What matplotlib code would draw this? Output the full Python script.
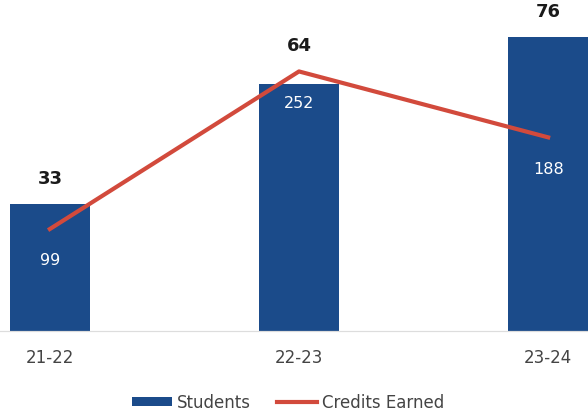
import numpy as np
import matplotlib.pyplot as plt
from matplotlib.patches import Patch
from matplotlib.lines import Line2D

years = ['21-22', '22-23', '23-24']
students = [33, 64, 76]
credits = [99, 252, 188]

bar_color = '#1b4b8a'
line_color = '#d24a3c'

fig = plt.figure(figsize=(5.88, 4.15), dpi=100)
ax = fig.add_axes([0, 0.2024, 1, 0.7446])
ax2 = ax.twinx()

x = np.arange(len(years))
width = 0.32
bars = ax.bar(x, students, width, color=bar_color, zorder=2)
ax2.plot(x, credits, color=line_color, linewidth=3, zorder=3)

ax.set_xlim(-0.2, 2.16)
ax.set_ylim(0, 80)
ax2.set_ylim(0, 300)

# student counts above bars (kept clear of the line)
scale = 80 / 300
for rect, c in zip(bars, credits):
    h = rect.get_height()
    anchor = max(h, c * scale)
    ax.annotate('{}'.format(h), (rect.get_x() + rect.get_width() / 2, anchor),
                xytext=(0, 18), textcoords='offset points',
                ha='center', va='center', fontsize=13, fontweight='bold', color='#1a1a1a')

# credits labels below line points
for xi, c in zip(x, credits):
    ax2.annotate('{}'.format(c), (xi, c), xytext=(0, -23), textcoords='offset points',
                 ha='center', va='center', fontsize=11.5, color='white')

ax.set_xticks(x)
ax.set_xticklabels(years, fontsize=12, color='#444444')
ax.tick_params(axis='x', length=0, pad=13)
ax.set_yticks([])
ax2.set_yticks([])
for a in (ax, ax2):
    for s in ['top', 'left', 'right']:
        a.spines[s].set_visible(False)
    a.spines['bottom'].set_color('#dddddd')
    a.set_facecolor('none')

handles = [Patch(facecolor=bar_color, label='Students'),
           Line2D([0], [0], color=line_color, linewidth=3, label='Credits Earned')]
fig.legend(handles=handles, loc='center', bbox_to_anchor=(0.49, 0.03), ncol=2,
           frameon=False, fontsize=12, handlelength=2.4, handleheight=0.5,
           handletextpad=0.3, columnspacing=1.6, labelcolor='#444444')

fig.savefig('out.png', dpi=100)
